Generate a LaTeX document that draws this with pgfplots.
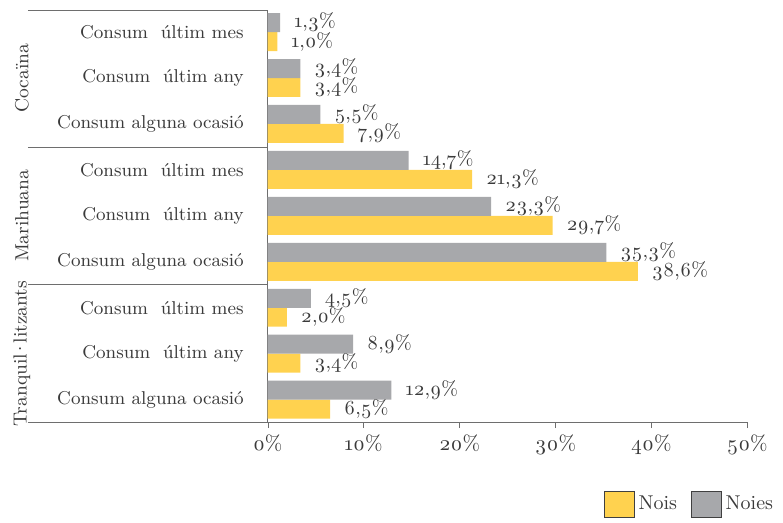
\documentclass[border=0pt]{standalone}
\usepackage{fontspec}
\setmainfont{Latin Modern Roman}[Numbers=OldStyle]
\usepackage{pgfplots}
\pgfplotsset{compat=1.18}

\definecolor{nois}{HTML}{FFD24F}
\definecolor{noies}{HTML}{A7A8AB}
\definecolor{txt}{HTML}{3A3A3A}
\definecolor{ln}{HTML}{6E6E6E}

\begin{document}
\begin{tikzpicture}
\begin{axis}[
    scale only axis,
    width=240pt, height=206.3pt,
    xbar, bar width=9.5pt,
    xmin=0, xmax=50,
    ymin=-0.49, ymax=8.48,
    axis x line*=bottom, axis y line*=left,
    axis line style={ln, -},
    xtick={0,10,...,50},
    tick align=outside,
    major tick length=3pt,
    x tick style={ln},
    ytick={0,...,8},
    y tick style={draw=none},
    yticklabels={Consum alguna ocasió, Consum\ \ últim any, Consum\ \ últim mes,
                 Consum alguna ocasió, Consum\ \ últim any, Consum\ \ últim mes,
                 Consum alguna ocasió, Consum\ \ últim any, Consum\ \ últim mes},
    yticklabel style={font=\fontsize{9.3}{11}\selectfont, text=txt, xshift=-5.5pt},
    /pgf/number format/assume math mode=true,
    xticklabel={\pgfmathprintnumber{\tick}\%},
    xticklabel style={font=\fontsize{10.5}{12}\selectfont, text=txt, yshift=0pt},
    point meta=x,
    nodes near coords={\pgfmathprintnumber[fixed,fixed zerofill,precision=1,use comma]{\pgfplotspointmeta}\%},
    nodes near coords style={font=\fontsize{10}{12}\selectfont, text=txt, anchor=west, xshift=3.5pt},
    clip=false,
    legend columns=2,
    legend style={at={(axis description cs:0,0)}, anchor=north west,
        xshift=165pt, yshift=-32pt, draw=none, fill=none,
        font=\fontsize{10}{12}\selectfont, text=txt,
        /tikz/every even column/.append style={column sep=5pt}},
    legend image code/.code={\draw[#1,draw=black!75] (0pt,-6.75pt) rectangle (15pt,6.75pt);},
]

% Nois
\addplot[fill=nois, draw=none, bar shift=-4.75pt] coordinates {
    (1.0,8) (3.4,7) (7.9,6)
    (21.3,5) (29.7,4) (38.6,3)
    (2.0,2) (3.4,1) (6.5,0)
};
\addlegendentry{Nois}

% Noies
\addplot[fill=noies, draw=none, bar shift=4.75pt] coordinates {
    (1.3,8) (3.4,7) (5.5,6)
    (14.7,5) (23.3,4) (35.3,3)
    (4.5,2) (8.9,1) (12.9,0)
};
\addlegendentry{Noies}

% separators on the left
\draw[ln] ([xshift=-120pt]axis cs:0,8.48) -- (axis cs:0,8.48);
\draw[ln] ([xshift=-120pt]axis cs:0,5.5) -- (axis cs:0,5.5);
\draw[ln] ([xshift=-120pt]axis cs:0,2.5) -- (axis cs:0,2.5);
\draw[ln] ([xshift=-120pt]axis cs:0,-0.49) -- (axis cs:0,-0.49);

% group labels
\node[rotate=90, font=\fontsize{9.5}{11}\selectfont, text=txt] at ([xshift=-123pt]axis cs:0,7) {Cocaïna};
\node[rotate=90, font=\fontsize{9.5}{11}\selectfont, text=txt] at ([xshift=-123pt]axis cs:0,4) {Marihuana};
\node[rotate=90, font=\fontsize{9.5}{11}\selectfont, text=txt] at ([xshift=-123pt]axis cs:0,1) {Tranquil\kern-1.2pt·\kern-1.2pt litzants};

\end{axis}
\path ([shift={(-134pt,5pt)}]current axis.north west) rectangle ([shift={(257.5pt,-254.5pt)}]current axis.north west);
\end{tikzpicture}
\end{document}
